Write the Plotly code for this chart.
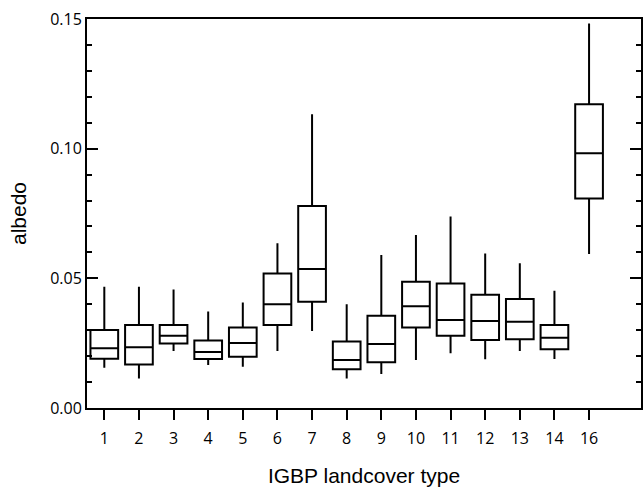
import plotly.graph_objects as go

categories = ["1", "2", "3", "4", "5", "6", "7", "8", "9", "10", "11", "12", "13", "14", "16"]
lower_whisker = [0.0155, 0.0114, 0.0220, 0.0166, 0.0159, 0.0220, 0.0297, 0.0114, 0.0131, 0.0185, 0.0211, 0.0188, 0.0220, 0.0189, 0.0594]
q1 = [0.0190, 0.0168, 0.0249, 0.0189, 0.0198, 0.0320, 0.0410, 0.0149, 0.0176, 0.0310, 0.0279, 0.0262, 0.0265, 0.0227, 0.0808]
median = [0.0230, 0.0234, 0.0279, 0.0216, 0.0251, 0.0400, 0.0536, 0.0185, 0.0247, 0.0392, 0.0339, 0.0335, 0.0333, 0.0271, 0.0982]
q3 = [0.0301, 0.0320, 0.0320, 0.0260, 0.0310, 0.0519, 0.0779, 0.0256, 0.0356, 0.0487, 0.0480, 0.0437, 0.0420, 0.0320, 0.1171]
upper_whisker = [0.0468, 0.0468, 0.0457, 0.0372, 0.0407, 0.0635, 0.1133, 0.0400, 0.0590, 0.0667, 0.0738, 0.0596, 0.0558, 0.0452, 0.1483]

fig = go.Figure()
fig.add_trace(go.Box(
    x=categories,
    q1=q1, median=median, q3=q3,
    lowerfence=lower_whisker, upperfence=upper_whisker,
    fillcolor="rgba(255,255,255,0)",
    line=dict(color="black", width=2),
    whiskerwidth=0,
    width=0.8,
    boxpoints=False,
    showlegend=False,
))

fig.update_layout(
    width=644, height=487,
    margin=dict(l=87, r=1, t=19, b=79),
    plot_bgcolor="white", paper_bgcolor="white",
    font=dict(family="Open Sans", size=16, color="black"),
)
fig.update_xaxes(
    type="category",
    categoryorder="array", categoryarray=categories,
    range=[-0.5, 15.5],
    showline=True, linecolor="black", linewidth=2, mirror=True,
    ticks="outside", ticklen=10, tickwidth=2, tickcolor="black",
    ticklabelstandoff=5,
    showgrid=False, zeroline=False,
    title=dict(text="IGBP landcover type", font=dict(family="Liberation Sans", size=21), standoff=20),
)
fig.update_yaxes(
    range=[0, 0.15],
    tickvals=[0, 0.05, 0.10, 0.15],
    ticktext=["0.00", "0.05", "0.10", "0.15"],
    showline=True, linecolor="black", linewidth=2, mirror="allticks",
    ticks="inside", ticklen=11, tickwidth=2, tickcolor="black",
    minor=dict(dtick=0.01, tick0=0, ticks="inside", ticklen=5, tickwidth=2, tickcolor="black", showgrid=False),
    showgrid=False, zeroline=False,
    title=dict(text="albedo", font=dict(family="Liberation Sans", size=21), standoff=18),
)

fig.write_html("out.html")
